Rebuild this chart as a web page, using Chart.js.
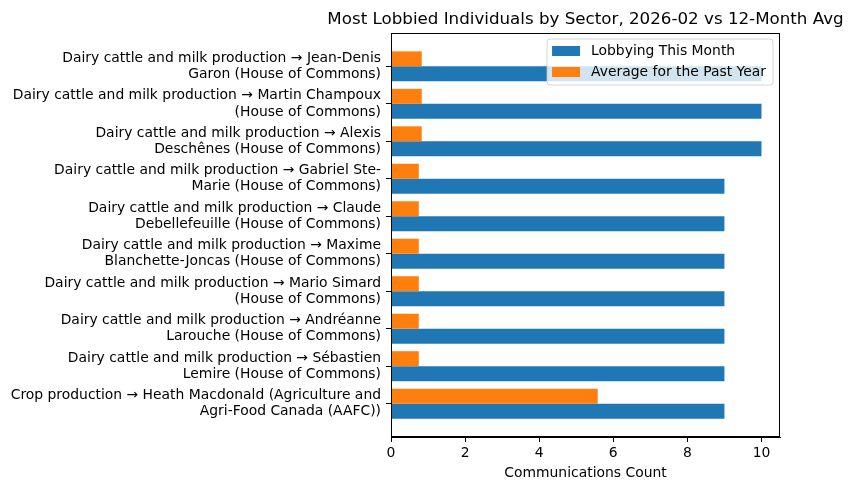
<!DOCTYPE html>
<html>
<head>
<meta charset="utf-8">
<script src="https://cdn.jsdelivr.net/npm/chart.js@4"></script>
<style>
  html, body { margin: 0; padding: 0; background: #fff; }
  #wrap { width: 852px; height: 490px; }
</style>
</head>
<body>
<div id="wrap"><canvas id="c" width="852" height="490"></canvas></div>
<script>
// ---- data ----
const categories = [
  ["Dairy cattle and milk production \u2192 Jean-Denis", "Garon (House of Commons)"],
  ["Dairy cattle and milk production \u2192 Martin Champoux", "(House of Commons)"],
  ["Dairy cattle and milk production \u2192 Alexis", "Desch\u00eanes (House of Commons)"],
  ["Dairy cattle and milk production \u2192 Gabriel Ste-", "Marie (House of Commons)"],
  ["Dairy cattle and milk production \u2192 Claude", "Debellefeuille (House of Commons)"],
  ["Dairy cattle and milk production \u2192 Maxime", "Blanchette-Joncas (House of Commons)"],
  ["Dairy cattle and milk production \u2192 Mario Simard", "(House of Commons)"],
  ["Dairy cattle and milk production \u2192 Andr\u00e9anne", "Larouche (House of Commons)"],
  ["Dairy cattle and milk production \u2192 S\u00e9bastien", "Lemire (House of Commons)"],
  ["Crop production \u2192 Heath Macdonald (Agriculture and", "Agri-Food Canada (AAFC))"]
];
const thisMonth = [10, 10, 10, 9, 9, 9, 9, 9, 9, 9];
const pastYearAvg = [0.83, 0.83, 0.83, 0.75, 0.75, 0.75, 0.75, 0.75, 0.75, 5.58];
const xTicks = [0, 2, 4, 6, 8, 10];
const seriesNames = ["Lobbying This Month", "Average for the Past Year"];
const chartTitle = "Most Lobbied Individuals by Sector, 2026-02 vs 12-Month Avg";
const xAxisTitle = "Communications Count";

const BLUE = "#1f77b4", ORANGE = "#ff7f0e";
const FONT = "'DejaVu Sans', sans-serif";
const FS = 13.9;

const toPoints = arr => arr.map((v, i) => ({ x: v, y: i }));

const framePlugin = {
  id: 'frame',
  afterDatasetsDraw(chart) {
    const { ctx, chartArea: a } = chart;
    ctx.save();
    ctx.strokeStyle = '#000';
    ctx.lineWidth = 1;
    ctx.strokeRect(Math.round(a.left) + 0.5, Math.round(a.top) + 0.5,
      Math.round(a.right - a.left) - 1, Math.round(a.bottom - a.top) - 1);
    ctx.restore();
  }
};

const titlePlugin = {
  id: 'axTitle',
  afterDraw(chart) {
    const { ctx, chartArea: a } = chart;
    ctx.save();
    ctx.fillStyle = '#000';
    ctx.font = `16.7px ${FONT}`;
    ctx.textAlign = 'center';
    ctx.textBaseline = 'alphabetic';
    ctx.fillText(chartTitle, (a.left + a.right) / 2, 24);
    ctx.restore();
  }
};

const legendPlugin = {
  id: 'innerLegend',
  afterDatasetsDraw(chart) {
    const { ctx, chartArea: a } = chart;
    ctx.save();
    ctx.font = `${FS}px ${FONT}`;
    const items = [
      { label: seriesNames[0], color: BLUE },
      { label: seriesNames[1], color: ORANGE }
    ];
    const textW = Math.max(...items.map(it => ctx.measureText(it.label).width));
    const pad = 5, sw = 28, sh = 10, gap = 11, rowH = 21;
    const w = pad + sw + gap + textW + 7;
    const h = rowH * items.length + 4;
    const x = a.right - 7 - w;
    const y = a.top + 6;
    const r = 3;
    ctx.beginPath();
    ctx.moveTo(x + r, y);
    ctx.lineTo(x + w - r, y); ctx.quadraticCurveTo(x + w, y, x + w, y + r);
    ctx.lineTo(x + w, y + h - r); ctx.quadraticCurveTo(x + w, y + h, x + w - r, y + h);
    ctx.lineTo(x + r, y + h); ctx.quadraticCurveTo(x, y + h, x, y + h - r);
    ctx.lineTo(x, y + r); ctx.quadraticCurveTo(x, y, x + r, y);
    ctx.closePath();
    ctx.fillStyle = 'rgba(255,255,255,0.8)';
    ctx.fill();
    ctx.strokeStyle = 'rgba(204,204,204,0.8)';
    ctx.lineWidth = 1;
    ctx.stroke();
    items.forEach((it, i) => {
      const cy = y + 12 + i * rowH;
      ctx.fillStyle = it.color;
      ctx.fillRect(x + pad, cy - sh / 2, sw, sh);
      ctx.fillStyle = '#000';
      ctx.textAlign = 'left';
      ctx.textBaseline = 'middle';
      ctx.fillText(it.label, x + pad + sw + gap, cy);
    });
    ctx.restore();
  }
};

new Chart(document.getElementById('c'), {
  type: 'bar',
  data: {
    datasets: [
      { label: seriesNames[1], data: toPoints(pastYearAvg), backgroundColor: ORANGE },
      { label: seriesNames[0], data: toPoints(thisMonth), backgroundColor: BLUE }
    ]
  },
  options: {
    indexAxis: 'y',
    responsive: false,
    animation: false,
    devicePixelRatio: 1,
    categoryPercentage: 0.8,
    barPercentage: 1.0,
    layout: { padding: { left: 0, right: 72, top: 33, bottom: 0 } },
    plugins: {
      legend: { display: false },
      title: { display: false },
      tooltip: { enabled: false }
    },
    scales: {
      x: {
        type: 'linear',
        min: 0,
        max: 10.5,
        offset: false,
        afterBuildTicks: axis => { axis.ticks = xTicks.map(v => ({ value: v })); },
        afterFit: axis => { axis.height = 53; },
        grid: { offset: false, drawOnChartArea: false, drawTicks: true, tickLength: 5, tickColor: '#000' },
        border: { display: true, color: '#000', width: 1 },
        ticks: { color: '#000', font: { family: FONT, size: FS }, padding: 3, maxRotation: 0 },
        title: { display: true, text: xAxisTitle, color: '#000', font: { family: FONT, size: FS }, padding: { top: 2, bottom: 8 } }
      },
      y: {
        type: 'linear',
        reverse: true,
        offset: false,
        min: -0.89,
        max: 9.89,
        afterBuildTicks: axis => { axis.ticks = categories.map((_, i) => ({ value: i })); },
        afterFit: axis => { axis.width = 391; },
        grid: { offset: false, drawOnChartArea: false, drawTicks: true, tickLength: 5, tickColor: '#000' },
        border: { display: true, color: '#000', width: 1 },
        ticks: {
          autoSkip: false,
          color: '#000',
          font: { family: FONT, size: FS, lineHeight: 1.16 },
          padding: 5,
          callback: v => categories[v]
        }
      }
    }
  },
  plugins: [framePlugin, legendPlugin, titlePlugin]
});
</script>
</body>
</html>
